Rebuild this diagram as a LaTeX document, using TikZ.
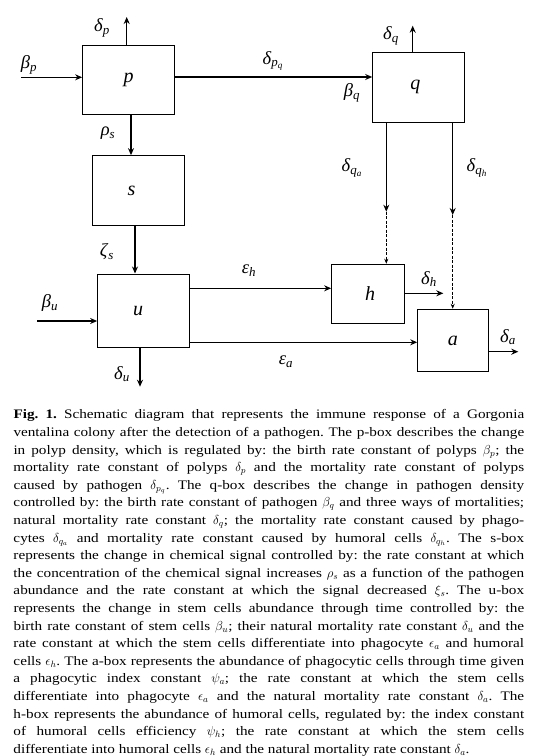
\RequirePackage{fix-cm}
\documentclass[tikz,border=0pt]{standalone}
\usepackage{fontspec}
\setmainfont{Liberation Serif}
\newfontfamily\capfont{Liberation Serif}[FakeStretch=1.17]
\newcommand\glab[2]{\textit{#1}\textsubscript{\textit{#2}}}
\usetikzlibrary{arrows.meta}
\begin{document}
\begin{tikzpicture}[x=1pt,y=-1pt,
  box/.style={draw, line width=1.1pt, inner sep=0pt, font=\fontsize{20}{24}\selectfont\itshape},
  lab/.style={inner sep=0pt, font=\fontsize{18.5}{22}\selectfont},
  conn/.style={line width=1.1pt, -{Stealth[length=7pt,width=6pt]}},
  dashconn/.style={line width=1pt, dash pattern=on 3pt off 1.5pt, -{Stealth[length=5pt,width=4pt]}},
  capt/.style={anchor=north west, inner sep=0pt, text width=510.7pt, align=justify,
    font=\capfont\fontsize{13}{17.6}\selectfont}]
\useasboundingbox (0,0) rectangle (546,756);

% boxes
\node[box, minimum width=91.6pt, minimum height=69.3pt] (p) at (128.5,79.7) {p};
\node[box, minimum width=91.3pt, minimum height=69.7pt] (q) at (418.4,87.2) {\hspace*{-6pt}q};
\node[box, minimum width=91.6pt, minimum height=70pt] (s) at (138.5,190.7) {\hspace*{-14pt}s};
\node[box, minimum width=91.6pt, minimum height=73.3pt] (u) at (143.5,310.7) {\hspace*{-11pt}u};
\node[box, minimum width=72.6pt, minimum height=59pt] (h) at (368,293.8) {\hspace*{4pt}h};
\node[box, minimum width=70.3pt, minimum height=62.4pt] (a) at (452.9,340.5) {a};

% labels
\node[lab] (Lbp) at (29,65) {\glab{β}{p}};
\node[lab] (Ldp) at (102,28) {\glab{δ}{p}};
\node[lab] (Ldpq) at (273,61) {\textit{δ}\textsubscript{\textit{p}\textsubscript{\textit{q}}}};
\node[lab] (Lrho) at (108,133) {\glab{ρ}{s}};
\node[lab] (Ldq) at (391,36) {\glab{δ}{q}};
\node[lab] (Lbq) at (352,93) {\glab{β}{q}};
\node[lab] (Ldqa) at (352,168) {\textit{δ}\textsubscript{\textit{q}\textsubscript{\textit{a}}}};
\node[lab] (Ldqh) at (477,168) {\textit{δ}\textsubscript{\textit{q}\textsubscript{\textit{h}}}};
\node[lab] (Lzeta) at (107,252) {\glab{ζ}{s}};
\node[lab] (Leh) at (249,271) {\glab{ε}{h}};
\node[lab] (Lbu) at (50,303) {\glab{β}{u}};
\node[lab] (Ldu) at (122,374) {\glab{δ}{u}};
\node[lab] (Ldh) at (429,279) {\glab{δ}{h}};
\node[lab] (Lda) at (508,337) {\glab{δ}{a}};
\node[lab] (Lea) at (286,362) {\glab{ε}{a}};

% connectors
\coordinate (bpS) at (21,77.3);
\draw[conn] (bpS) -- (bpS -| p.west);
\coordinate (dpE) at (126.7,17);
\draw[conn] (dpE |- p.north) -- (dpE);
\coordinate (pqY) at (0,77);
\draw[conn] (pqY -| p.east) -- (pqY -| q.west);
\coordinate (dqE) at (412.7,25.7);
\draw[conn] (dqE |- q.north) -- (dqE);
\coordinate (rhoX) at (131,0);
\draw[conn] (rhoX |- p.south) -- (rhoX |- s.north);
\coordinate (zetaX) at (135,0);
\draw[conn] (zetaX |- s.south) -- (zetaX |- u.north);
\coordinate (buS) at (37,321);
\draw[conn] (buS) -- (buS -| u.west);
\coordinate (duE) at (140,386.7);
\draw[conn] (duE |- u.south) -- (duE);
\coordinate (ehY) at (0,288.3);
\draw[conn] (ehY -| u.east) -- (ehY -| h.west);
\coordinate (eaY) at (0,342.3);
\draw[conn] (eaY -| u.east) -- (eaY -| a.west);
\coordinate (qaM) at (386.3,211.7);
\draw[conn] (qaM |- q.south) -- (qaM);
\draw[dashconn] (qaM) -- (qaM |- h.north);
\coordinate (qhM) at (452.7,215);
\draw[conn] (qhM |- q.south) -- (qhM);
\draw[dashconn] (qhM) -- (qhM |- a.north);
\coordinate (dhE) at (443.3,293.3);
\draw[conn] (dhE -| h.east) -- (dhE);
\coordinate (daE) at (518.3,351.7);
\draw[conn] (daE -| a.east) -- (daE);

% caption
\node[capt] (cap) at (13.3,409.6) {\tolerance=10000\hyphenpenalty=10000\emergencystretch=20pt\frenchspacing
\textbf{Fig. 1.} Schematic diagram that represents the immune response of a Gorgonia\linebreak
ventalina colony after the detection of a pathogen. The p-box describes the change\linebreak
in polyp density, which is regulated by: the birth rate constant of polyps $\beta_p$; the\linebreak
mortality rate constant of polyps $\delta_p$ and the mortality rate constant of polyps\linebreak
caused by pathogen $\delta_{p_q}$. The q-box describes the change in pathogen density\linebreak
controlled by: the birth rate constant of pathogen $\beta_q$ and three ways of mortalities;\linebreak
natural mortality rate constant $\delta_q$; the mortality rate constant caused by phago-\linebreak
cytes $\delta_{q_a}$ and mortality rate constant caused by humoral cells $\delta_{q_h}$. The s-box\linebreak
represents the change in chemical signal controlled by: the rate constant at which\linebreak
the concentration of the chemical signal increases $\rho_s$ as a function of the pathogen\linebreak
abundance and the rate constant at which the signal decreased $\xi_s$. The u-box\linebreak
represents the change in stem cells abundance through time controlled by: the\linebreak
birth rate constant of stem cells $\beta_u$; their natural mortality rate constant $\delta_u$ and the\linebreak
rate constant at which the stem cells differentiate into phagocyte $\epsilon_a$ and humoral\linebreak
cells $\epsilon_h$. The a-box represents the abundance of phagocytic cells through time given\linebreak
a phagocytic index constant $\psi_a$; the rate constant at which the stem cells\linebreak
differentiate into phagocyte $\epsilon_a$ and the natural mortality rate constant $\delta_a$. The\linebreak
h-box represents the abundance of humoral cells, regulated by: the index constant\linebreak
of humoral cells efficiency $\psi_h$; the rate constant at which the stem cells\linebreak
differentiate into humoral cells $\epsilon_h$ and the natural mortality rate constant $\delta_a$.};
\end{tikzpicture}
\end{document}
